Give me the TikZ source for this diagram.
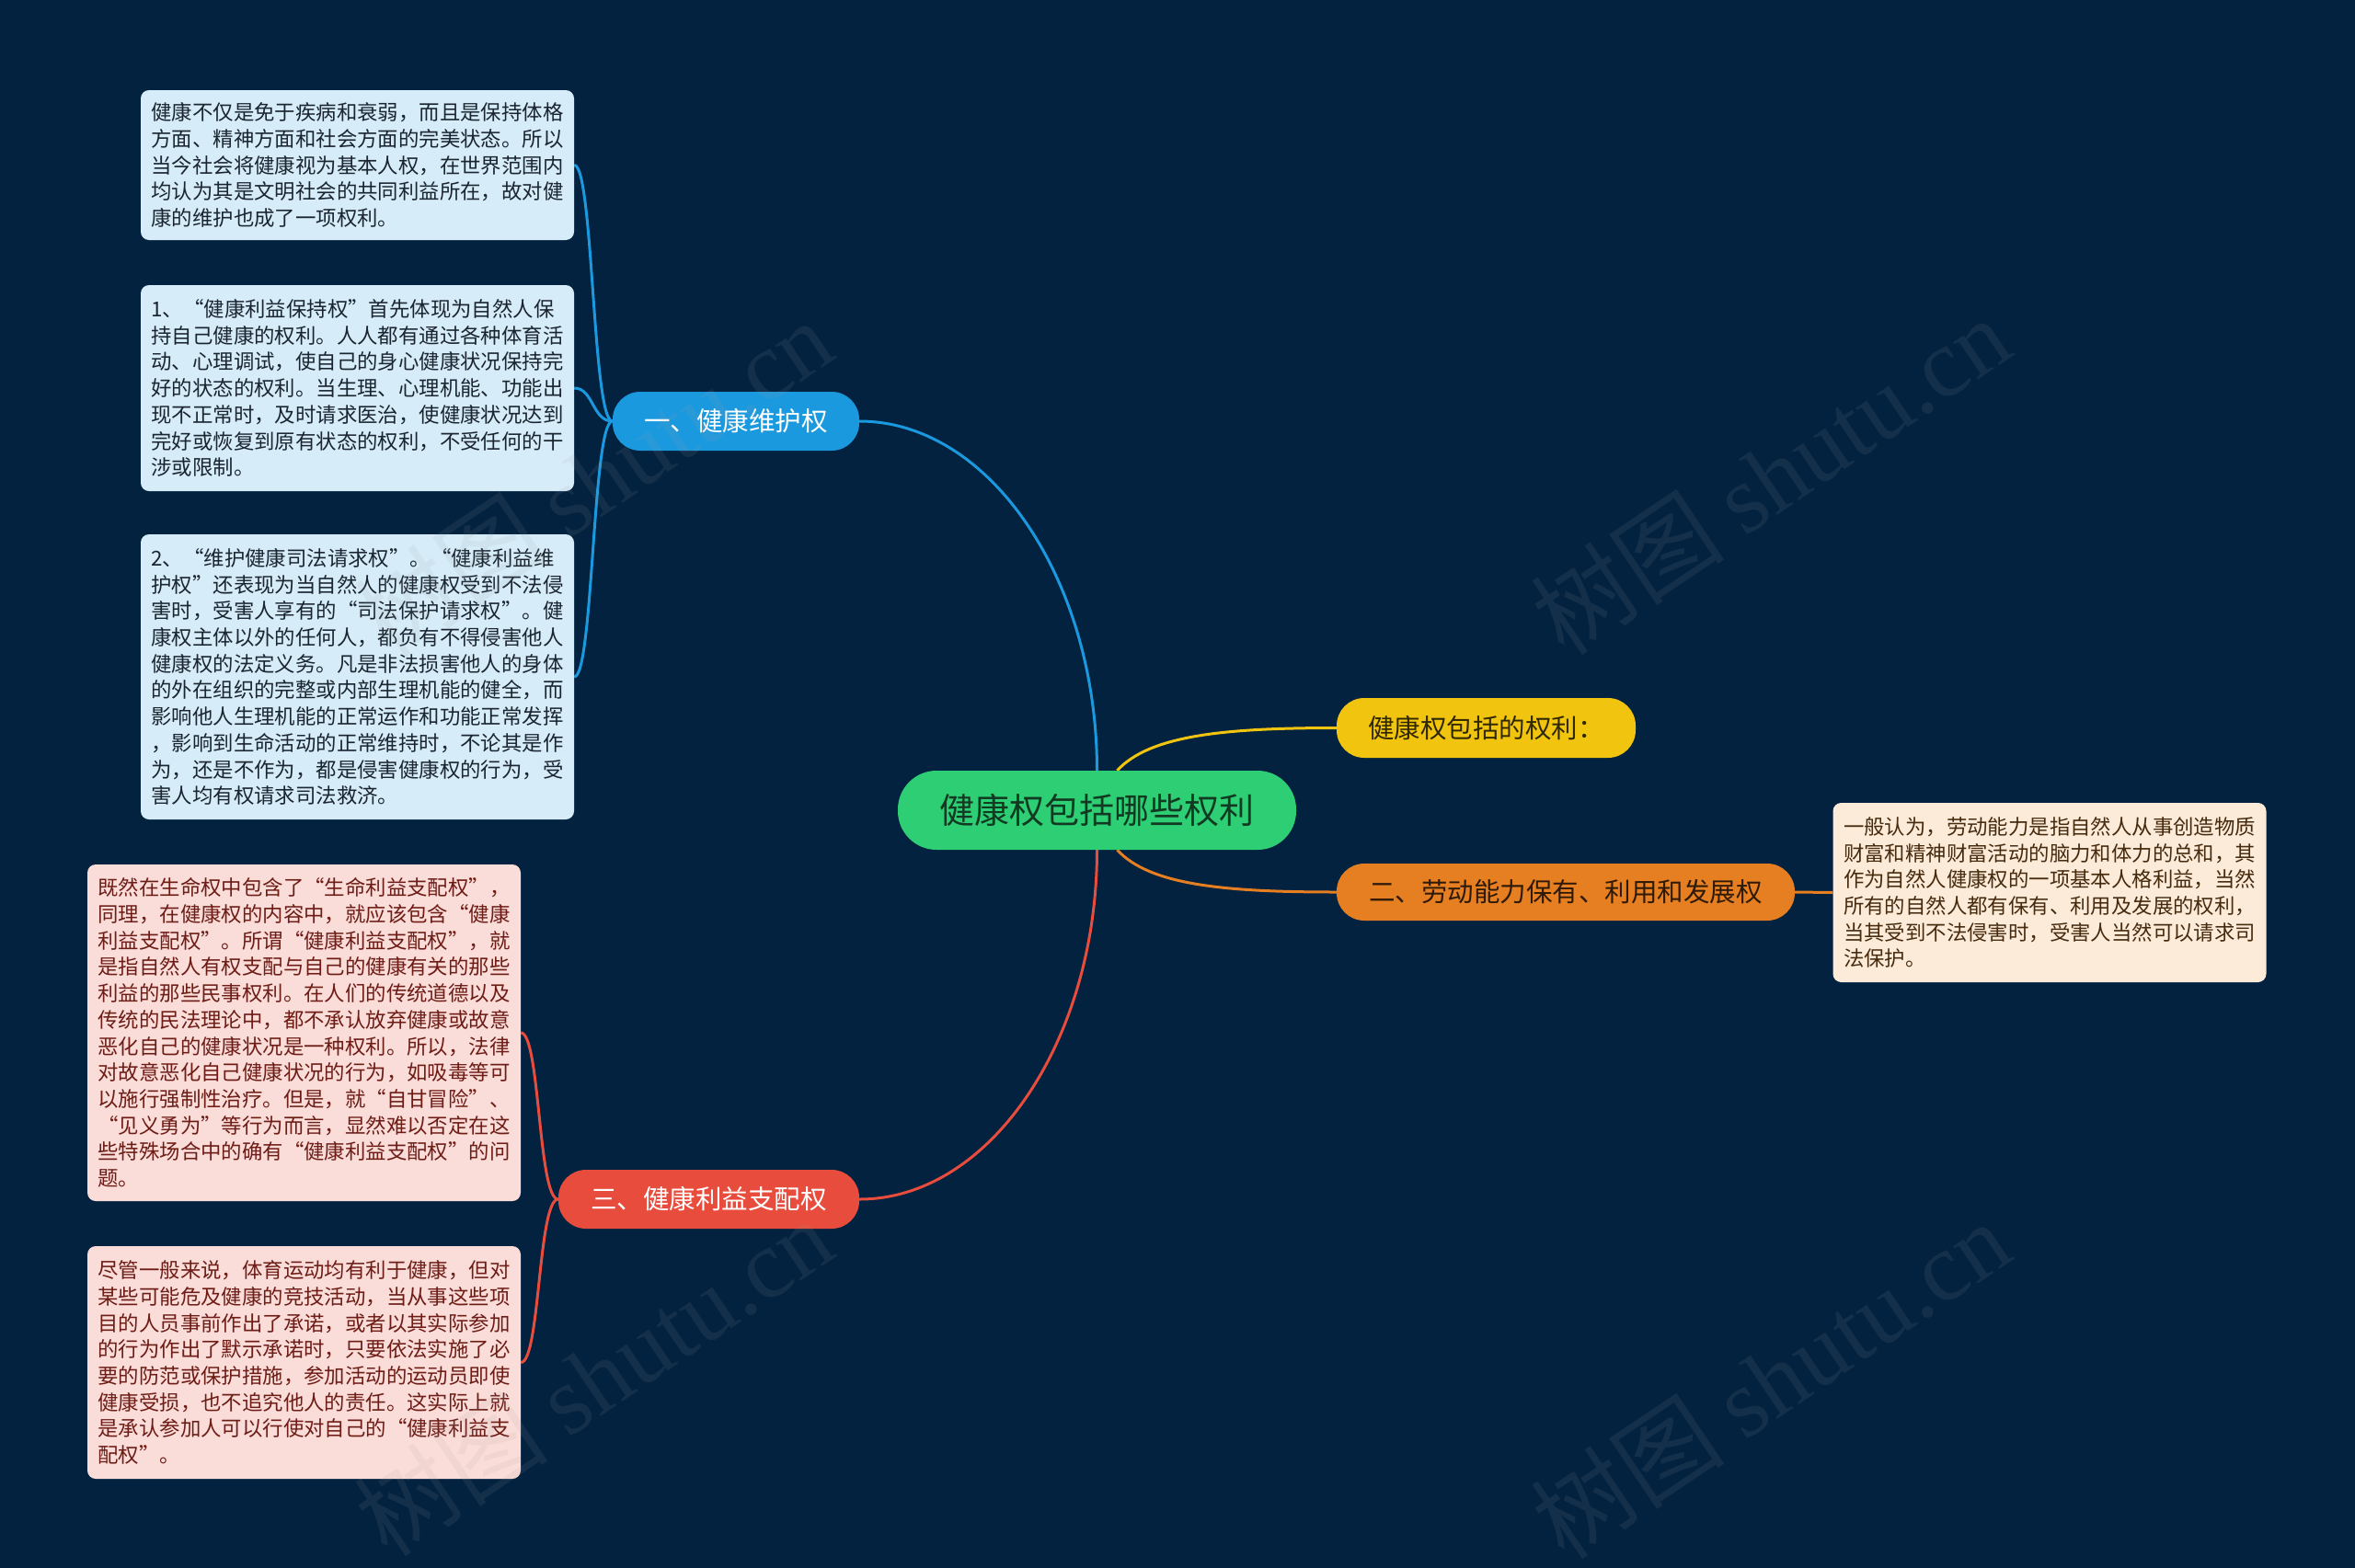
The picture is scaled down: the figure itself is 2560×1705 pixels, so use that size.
\documentclass[tikz,border=0pt]{standalone}
\usepackage{fontspec}
\newfontfamily\cjk{Noto Sans CJK SC}
\newfontfamily\cjkfw[RawFeature=+fwid]{Noto Sans CJK SC}
\newfontfamily\wmlat{Liberation Serif}
\newcommand\ql{{\cjkfw “}}
\newcommand\qr{{\cjkfw ”}}
\usetikzlibrary{calc}
\definecolor{bgc}{RGB}{2,34,63}
\definecolor{cgreen}{RGB}{46,207,116}
\definecolor{cgreentxt}{RGB}{18,58,34}
\definecolor{cblue}{RGB}{27,153,222}
\definecolor{cyellow}{RGB}{241,196,15}
\definecolor{cyellowtxt}{RGB}{48,40,0}
\definecolor{corange}{RGB}{230,126,34}
\definecolor{corangetxt}{RGB}{46,26,7}
\definecolor{cred}{RGB}{231,76,60}
\definecolor{lblue}{RGB}{214,236,248}
\definecolor{lbluetxt}{RGB}{26,37,48}
\definecolor{lred}{RGB}{250,220,216}
\definecolor{lredtxt}{RGB}{110,28,22}
\definecolor{lorange}{RGB}{253,235,217}
\definecolor{lorangetxt}{RGB}{70,42,14}
\pgfdeclarelayer{bgl}
\pgfdeclarelayer{lines}
\pgfdeclarelayer{wm}
\pgfsetlayers{bgl,lines,main,wm}
\begin{document}
\begin{tikzpicture}[x=1pt,y=-1pt,
  pill/.style={rounded corners=30pt, inner sep=0pt, align=center},
  leaf/.style={rounded corners=9pt, inner xsep=11.5pt, inner ysep=0pt,
    text width=448pt, align=left, font={\cjk\fontsize{22.4pt}{28.7pt}\selectfont}},
  bfont/.style={font={\cjk\fontsize{28.5pt}{32pt}\selectfont}},
  conn/.style={line width=3pt},
  wmark/.style={rotate=34, text=gray!75!white, text opacity=0.11,
    font={\fontsize{106pt}{116pt}\selectfont}}]
\begin{pgfonlayer}{bgl}
\fill[bgc] (0,0) rectangle (2560,1705);
\end{pgfonlayer}
\useasboundingbox (0,0) rectangle (2560,1705);

% central node
\node[pill, fill=cgreen, text=cgreentxt, minimum width=433pt, minimum height=86pt,
  rounded corners=42pt, font={\cjk\fontsize{38pt}{42pt}\selectfont}] (c) at (1192.5,881) {健康权包括哪些权利};

% branch nodes
\node[pill, bfont, fill=cblue, text=white, minimum width=268pt, minimum height=64pt] (b) at (800,458) {一、健康维护权};
\node[pill, bfont, fill=cyellow, text=cyellowtxt, minimum width=325pt, minimum height=65pt] (y) at (1615.5,791.5) {健康权包括的权利：};
\node[pill, bfont, fill=corange, text=corangetxt, minimum width=498pt, minimum height=62pt] (o) at (1702,970) {二、劳动能力保有、利用和发展权};
\node[pill, bfont, fill=cred, text=white, minimum width=327pt, minimum height=64pt] (r) at (770.5,1304) {三、健康利益支配权};

% blue leaves
\node[leaf, fill=lblue, text=lbluetxt, minimum height=163pt] (b1) at (388.5,179.5) {健康不仅是免于疾病和衰弱，而且是保持体格\\
方面、精神方面和社会方面的完美状态。所以\\
当今社会将健康视为基本人权，在世界范围内\\
均认为其是文明社会的共同利益所在，故对健\\
康的维护也成了一项权利。};
\node[leaf, fill=lblue, text=lbluetxt, minimum height=224pt] (b2) at (388.5,422) {1、\ql 健康利益保持权\qr 首先体现为自然人保\\
持自己健康的权利。人人都有通过各种体育活\\
动、心理调试，使自己的身心健康状况保持完\\
好的状态的权利。当生理、心理机能、功能出\\
现不正常时，及时请求医治，使健康状况达到\\
完好或恢复到原有状态的权利，不受任何的干\\
涉或限制。};
\node[leaf, fill=lblue, text=lbluetxt, minimum height=310pt] (b3) at (388.5,736) {2、\ql 维护健康司法请求权\qr 。\ql 健康利益维\\
护权\qr 还表现为当自然人的健康权受到不法侵\\
害时，受害人享有的\ql 司法保护请求权\qr 。健\\
康权主体以外的任何人，都负有不得侵害他人\\
健康权的法定义务。凡是非法损害他人的身体\\
的外在组织的完整或内部生理机能的健全，而\\
影响他人生理机能的正常运作和功能正常发挥\\
，影响到生命活动的正常维持时，不论其是作\\
为，还是不作为，都是侵害健康权的行为，受\\
害人均有权请求司法救济。};

% red leaves
\node[leaf, fill=lred, text=lredtxt, minimum height=366pt] (r1) at (330.5,1123) {既然在生命权中包含了\ql 生命利益支配权\qr ，\\
同理，在健康权的内容中，就应该包含\ql 健康\\
利益支配权\qr 。所谓\ql 健康利益支配权\qr ，就\\
是指自然人有权支配与自己的健康有关的那些\\
利益的那些民事权利。在人们的传统道德以及\\
传统的民法理论中，都不承认放弃健康或故意\\
恶化自己的健康状况是一种权利。所以，法律\\
对故意恶化自己健康状况的行为，如吸毒等可\\
以施行强制性治疗。但是，就\ql 自甘冒险\qr 、\\
\ql 见义勇为\qr 等行为而言，显然难以否定在这\\
些特殊场合中的确有\ql 健康利益支配权\qr 的问\\
题。};
\node[leaf, fill=lred, text=lredtxt, minimum height=253pt] (r2) at (330.5,1481.5) {尽管一般来说，体育运动均有利于健康，但对\\
某些可能危及健康的竞技活动，当从事这些项\\
目的人员事前作出了承诺，或者以其实际参加\\
的行为作出了默示承诺时，只要依法实施了必\\
要的防范或保护措施，参加活动的运动员即使\\
健康受损，也不追究他人的责任。这实际上就\\
是承认参加人可以行使对自己的\ql 健康利益支\\
配权\qr 。};

% orange leaf
\node[leaf, fill=lorange, text=lorangetxt, minimum height=195pt] (o1) at (2228,970.5) {一般认为，劳动能力是指自然人从事创造物质\\
财富和精神财富活动的脑力和体力的总和，其\\
作为自然人健康权的一项基本人格利益，当然\\
所有的自然人都有保有、利用及发展的权利，\\
当其受到不法侵害时，受害人当然可以请求司\\
法保护。};

% connectors
\begin{pgfonlayer}{lines}
\draw[conn, cblue] (b.east) .. controls +(142,0) and +(0,-207) .. (c.north);
\draw[conn, cred] (r.east) .. controls +(142,0) and +(0,207) .. (c.south);
\draw[conn, cyellow] ($(c.north)+(22,0)$) .. controls +(35,-38) and +(-123,0) .. (y.west);
\draw[conn, corange] ($(c.south)+(22,0)$) .. controls +(35,38) and +(-123,0) .. (o.west);
\draw[conn, cblue] (b.west) .. controls +(-22,0) and +(21,0) .. (b1.east);
\draw[conn, cblue] (b.west) .. controls +(-22,0) and +(21,0) .. (b2.east);
\draw[conn, cblue] (b.west) .. controls +(-22,0) and +(21,0) .. (b3.east);
\draw[conn, cred] (r.west) .. controls +(-22,0) and +(21,0) .. (r1.east);
\draw[conn, cred] (r.west) .. controls +(-22,0) and +(21,0) .. (r2.east);
\draw[conn, corange] (o.east) -- (o1.west);
\end{pgfonlayer}

% watermarks
\begin{pgfonlayer}{wm}
\node[wmark] (w1) at (645,520) {\cjk 树图\ {\wmlat shutu.cn}};
\node[wmark] (w2) at (1924,517) {\cjk 树图\ {\wmlat shutu.cn}};
\node[wmark] (w3) at (645,1497) {\cjk 树图\ {\wmlat shutu.cn}};
\node[wmark] (w4) at (1924,1500) {\cjk 树图\ {\wmlat shutu.cn}};
\end{pgfonlayer}
\end{tikzpicture}
\end{document}
